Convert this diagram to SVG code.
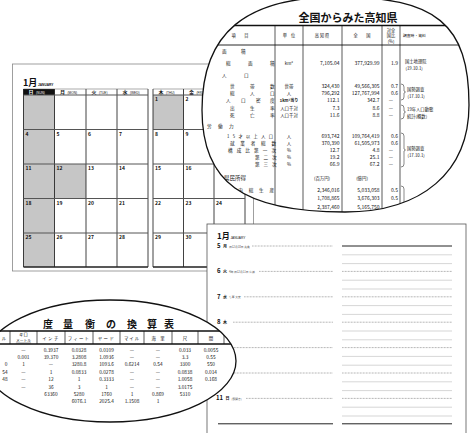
<svg xmlns="http://www.w3.org/2000/svg" width="472" height="433" viewBox="0 0 472 433">
<style>
text{font-family:"Noto Sans CJK JP","Noto Sans CJK SC",sans-serif;fill:#111}
.n{font-family:"Liberation Sans",Arial,sans-serif;font-weight:bold;font-size:5px}
.hk{font-size:5px;font-weight:bold}
.he{font-family:"Liberation Sans",Arial,sans-serif;font-size:3.2px}
.v{stroke:#111;stroke-width:0.8;fill:none}
.r{stroke:#555;stroke-width:1;fill:none}
.t{font-size:4.6px}
.u{font-size:4.4px;text-anchor:middle}
.num{font-family:"Liberation Serif","Noto Sans CJK JP",serif;font-size:5px;text-anchor:end}
.mid{text-anchor:middle}
.sm{font-size:4.2px}
.dot{stroke:#666;stroke-width:0.6;stroke-dasharray:0.8 0.7;fill:none}
.lt{stroke:#bbb;stroke-width:0.6;fill:none}
.bk{stroke:#222;stroke-width:1;fill:none}
.oval{fill:#fff}
.ol{fill:none;stroke:#111;stroke-width:1.3}
.tiny{font-size:2.8px;fill:#555}
.cv{font-family:"Liberation Serif","Noto Sans CJK JP",serif;font-size:4.8px;text-anchor:middle}
</style>
<defs>
<path id="o1" d="M202,110 C202,33 245.5,-3 338,-3 C436,-3 469,24 469,105 C469,172 421.9,212 345,212 C242,212 202,182 202,110 Z"/>
<clipPath id="c1"><use href="#o1"/></clipPath>
<clipPath id="c2"><ellipse cx="110" cy="361" rx="126" ry="61"/></clipPath>
</defs>

<g id="calendar">
<rect x="12.5" y="64" width="241" height="207" fill="#fff" stroke="#888" stroke-width="0.8"/>
<text x="23" y="86" font-size="9" font-weight="bold">1月</text>
<text x="38" y="86" class="he" font-weight="bold" font-size="3.8">JANUARY</text>
<g fill="#c6c6c6">
<rect x="23.5" y="95" width="31" height="172"/>
<rect x="54.5" y="164" width="31.5" height="34.5"/>
<rect x="153" y="95" width="30.5" height="34.5"/>
</g>
<rect x="23.5" y="89" width="31" height="6" fill="#111"/>
<text x="28.5" y="94" class="hk" style="fill:#fff">日</text><text x="36" y="93.6" class="he" style="fill:#fff">(SUN)</text>
<text x="60" y="94" class="hk">月</text><text x="67.5" y="93.6" class="he">(MON)</text>
<text x="91.5" y="94" class="hk">火</text><text x="99" y="93.6" class="he">(TUE)</text>
<text x="122.5" y="94" class="hk">水</text><text x="130" y="93.6" class="he">(WED)</text>
<text x="158.5" y="94" class="hk">木</text><text x="166" y="93.6" class="he">(THU)</text>
<text x="189" y="94" class="hk">金</text><text x="196.5" y="93.6" class="he">(FRI)</text>
<path class="v" d="M23.5 89V267M54.5 89V267M86 89V267M117 89V267M148 89V267M153 89V267M183.5 89V267M214 89V267M245 89V267"/>
<path class="r" d="M23.5 95H148M23.5 129.5H148M23.5 164H148M23.5 198.5H148M23.5 233H148M153 95H245M153 129.5H245M153 164H245M153 198.5H245M153 233H245"/>
<path stroke="#555" stroke-width="0.5" d="M23.5 89H148M153 89H245"/>
<path stroke="#222" stroke-width="1.3" d="M23.5 267H148M153 267H245"/>
<g class="n">
<text x="155" y="101">1</text><text x="185.5" y="101">2</text>
<text x="25.5" y="135.5">4</text><text x="56.5" y="135.5">5</text><text x="88" y="135.5">6</text><text x="119" y="135.5">7</text><text x="155" y="135.5">8</text><text x="185.5" y="135.5">9</text>
<text x="25.5" y="170">11</text><text x="56.5" y="170">12</text><text x="88" y="170">13</text><text x="119" y="170">14</text><text x="155" y="170">15</text><text x="185.5" y="170">16</text><text x="216" y="170">17</text>
<text x="25.5" y="204.5">18</text><text x="56.5" y="204.5">19</text><text x="88" y="204.5">20</text><text x="119" y="204.5">21</text><text x="155" y="204.5">22</text><text x="185.5" y="204.5">23</text><text x="216" y="204.5">24</text>
<text x="25.5" y="239">25</text><text x="56.5" y="239">26</text><text x="88" y="239">27</text><text x="119" y="239">28</text><text x="155" y="239">29</text><text x="185.5" y="239">30</text>
</g>
</g>

<g id="kochi-table">
<use href="#o1" class="oval"/>
<g clip-path="url(#c1)">
<text x="348" y="22" text-anchor="middle" font-size="11" font-weight="bold">全国からみた高知県</text>
<path stroke="#111" stroke-width="1.3" d="M195 25.5H475"/>
<path stroke="#111" stroke-width="0.9" d="M195 45H475"/>
<path stroke="#111" stroke-width="0.7" d="M275 25V230M303 25V230M342 25V230M382 25V230M400 25V230"/>
<g class="sm">
<text x="240" y="37" class="mid">項　　目</text>
<text x="289" y="37" class="mid">単　位</text>
<text x="322" y="37" class="mid">高 知 県</text>
<text x="362" y="37" class="mid">全　　国</text>
<text x="391" y="31.5" class="mid">対全</text>
<text x="391" y="37.3" class="mid">国比</text>
<text x="391" y="43" class="mid">(%)</text>
<text x="403" y="37" font-size="3.8">調査時・資料</text>
</g>
<g class="t">
<text x="222 241" y="53">面積</text>
<text x="226 248 270" y="65">総面積</text>
<text x="222 244" y="77">人口</text>
<text x="230 250 270" y="88">世帯数</text>
<text x="230 250 270" y="95">総人口</text>
<text x="226 241 256 270" y="102">人口密度</text>
<text x="230 250 270" y="109.5">出生率</text>
<text x="230 250 270" y="117">死亡率</text>
<text x="207 218 229" y="128">労働力</text>
<text x="227" y="137.5" font-size="4.2" textLength="46" lengthAdjust="spacing">15才以上人口</text>
<text x="230" y="144.5" textLength="46" lengthAdjust="spacing">就業者総数</text>
<text x="228" y="151.5" textLength="48" lengthAdjust="spacing">構成比第一次</text>
<text x="255 263.5 272" y="158.5">第二次</text>
<text x="255 263.5 272" y="165.5">第三次</text>
<text x="224" y="180" font-size="5.5">県民所得</text>
<text x="228" y="192" textLength="46" lengthAdjust="spacing">県内総生産</text>
</g>
<g class="u">
<text x="289" y="65">km²</text>
<text x="289" y="88">世帯</text>
<text x="289" y="95">人</text>
<text x="289" y="102" font-weight="bold" font-size="4">1km²当り</text>
<text x="289" y="109.5">人口千対</text>
<text x="289" y="117">人口千対</text>
<text x="289" y="137.5">人</text>
<text x="289" y="144.5">人</text>
<text x="289" y="151.5">%</text>
<text x="289" y="158.5">%</text>
<text x="289" y="165.5">%</text>
<text x="322" y="180">(百万円)</text>
<text x="362" y="180">(億円)</text>
</g>
<g class="num">
<text x="339.5" y="65">7,105.04</text><text x="379.5" y="65">377,929.99</text><text x="398" y="65">1.9</text>
<text x="339.5" y="88">324,430</text><text x="379.5" y="88">49,566,305</text><text x="398" y="88">0.7</text>
<text x="339.5" y="95">796,292</text><text x="379.5" y="95">127,767,994</text><text x="398" y="95">0.6</text>
<text x="339.5" y="102">112.1</text><text x="379.5" y="102">342.7</text>
<text x="339.5" y="109.5">7.3</text><text x="379.5" y="109.5">8.6</text>
<text x="339.5" y="117">11.6</text><text x="379.5" y="117">8.8</text>
<text x="339.5" y="137.5">693,742</text><text x="379.5" y="137.5">109,764,419</text><text x="398" y="137.5">0.6</text>
<text x="339.5" y="144.5">370,390</text><text x="379.5" y="144.5">61,505,973</text><text x="398" y="144.5">0.6</text>
<text x="339.5" y="151.5">12.7</text><text x="379.5" y="151.5">4.8</text>
<text x="339.5" y="158.5">19.2</text><text x="379.5" y="158.5">25.1</text>
<text x="339.5" y="165.5">66.9</text><text x="379.5" y="165.5">67.2</text>
<text x="339.5" y="192">2,346,016</text><text x="379.5" y="192">5,033,058</text><text x="398" y="192">0.5</text>
<text x="339.5" y="200">1,708,865</text><text x="379.5" y="200">3,676,303</text><text x="398" y="200">0.5</text>
<text x="339.5" y="208.5">2,387,460</text><text x="379.5" y="208.5">5,165,750</text>
</g>
<g class="cv">
<text x="391" y="102">—</text><text x="391" y="109.5">—</text><text x="391" y="117">—</text>
<text x="391" y="151.5">—</text><text x="391" y="158.5">—</text><text x="391" y="165.5">—</text>
</g>
<path stroke="#111" stroke-width="0.5" fill="none" d="M401 84q3 0 3 3v4l1.5 1l-1.5 1v4q0 3-3 3M401 105q3 0 3 3v3l1.5 1l-1.5 1v3q0 3-3 3M401 133q3 0 3 3v13l1.5 1l-1.5 1v13q0 3-3 3M401 186q3 0 3 3v40"/>
<g font-size="4.3">
<text x="405" y="63">国土地理院</text><text x="405.5" y="70">(19.10.1)</text>
<text x="407" y="91">国勢調査</text><text x="407.5" y="97.5">(17.10.1)</text>
<text x="407" y="111">19年人口動態</text><text x="407" y="117.5">統計(概数)</text>
<text x="407" y="150">国勢調査</text><text x="407.5" y="156.5">(17.10.1)</text>
</g>
</g>
<use href="#o1" class="ol"/>
</g>

<g id="notebook">
<rect x="207" y="224" width="259" height="215" fill="#fff" stroke="#555" stroke-width="0.8"/>
<text x="217" y="239" font-size="8" font-weight="bold">1月</text>
<text x="230.5" y="239" class="he" font-size="3">JANUARY</text>
<g font-weight="bold">
<text x="217" y="248" font-size="6">5</text><text x="223" y="248" font-size="4">月</text>
<text x="217" y="273.4" font-size="6">6</text><text x="223" y="273.4" font-size="4">火</text>
<text x="217" y="298.8" font-size="6">7</text><text x="223" y="298.8" font-size="4">水</text>
<text x="217" y="324.2" font-size="6">8</text><text x="223" y="324.2" font-size="4">木</text>
<text x="216" y="400.4" font-size="6">11</text><text x="225.5" y="400.4" font-size="4">日</text>
</g>
<text x="229" y="247.5" class="tiny">旧12月10日 先負</text>
<text x="229" y="272.9" class="tiny">4時 旧12月11日 仏滅</text>
<text x="229" y="298.3" class="tiny">七草 大安</text>
<text x="231.5" y="399.9" class="tiny">(鏡開き)</text>
<path class="dot" d="M252 246H333M259 271.4H333M244 296.8H333M233 322.2H333M225 347.6H333M225 373H333M246 398.4H333"/>
<path class="dot" d="M342 271.4H452M342 296.8H452M342 322.2H452M342 347.6H452M342 373H452M342 398.4H452"/>
<path class="lt" d="M342 254.8H452M342 263.6H452M342 280.2H452M342 289H452M342 305.6H452M342 314.4H452M342 331H452M342 339.8H452M342 356.4H452M342 365.2H452M342 381.8H452M342 390.6H452M342 407.2H452M342 416H452"/>
<path class="bk" d="M342 246H452M218 423.8H333M342 423.8H452"/>
</g>

<g id="conversion-table">
<ellipse cx="110" cy="361" rx="126" ry="61" fill="#fff"/>
<g clip-path="url(#c2)">
<g font-size="10" font-weight="bold" text-anchor="middle">
<text x="48" y="328">度</text><text x="68" y="328">量</text><text x="90" y="328">衡</text><text x="111" y="328">の</text><text x="132" y="328">換</text><text x="152" y="328">算</text><text x="169" y="328">表</text>
</g>
<path stroke="#111" stroke-width="1.3" d="M-20 331H240M-20 344H240"/>
<path stroke="#111" stroke-width="0.7" d="M10 331V344M37 331V344M65 331V344M93 331V344M120 331V344M144 331V344M172 331V344M198 331V344M224 331V344"/>
<g font-size="4.4" text-anchor="middle">
<text x="4" y="339.5">ル</text>
<text x="23.5" y="336">キロ</text><text x="23.5" y="341.8" font-size="3.8" text-decoration="underline">メートル</text>
<text x="51" y="339.5" letter-spacing="1.5">インチ</text>
<text x="79" y="339.5" letter-spacing="1.2">フィート</text>
<text x="106.5" y="339.5" letter-spacing="1.5">ヤード</text>
<text x="132" y="339.5" letter-spacing="1">マイル</text>
<text x="158" y="339.5">海　里</text>
<text x="185" y="339.5">尺</text>
<text x="211" y="339.5">間</text>
</g>
<g class="cv">
<text x="23.5" y="351.5">—</text><text x="51" y="351.5">0.3937</text><text x="79" y="351.5">0.0328</text><text x="106.5" y="351.5">0.0109</text><text x="132" y="351.5">—</text><text x="158" y="351.5">—</text><text x="185" y="351.5">0.033</text><text x="211" y="351.5">0.0055</text>
<text x="23.5" y="358.9">0.001</text><text x="51" y="358.9">39.370</text><text x="79" y="358.9">3.2808</text><text x="106.5" y="358.9">1.0936</text><text x="132" y="358.9">—</text><text x="158" y="358.9">—</text><text x="185" y="358.9">3.3</text><text x="211" y="358.9">0.55</text>
<text x="6" y="366.3">0</text><text x="23.5" y="366.3">1</text><text x="51" y="366.3">—</text><text x="79" y="366.3">3280.8</text><text x="106.5" y="366.3">1093.6</text><text x="132" y="366.3">0.6214</text><text x="158" y="366.3">0.54</text><text x="185" y="366.3">3300</text><text x="211" y="366.3">550</text>
<text x="5" y="373.7">54</text><text x="23.5" y="373.7">—</text><text x="51" y="373.7">1</text><text x="79" y="373.7">0.0833</text><text x="106.5" y="373.7">0.0278</text><text x="132" y="373.7">—</text><text x="158" y="373.7">—</text><text x="185" y="373.7">0.0838</text><text x="211" y="373.7">0.014</text>
<text x="5" y="381.1">48</text><text x="23.5" y="381.1">—</text><text x="51" y="381.1">12</text><text x="79" y="381.1">1</text><text x="106.5" y="381.1">0.3333</text><text x="132" y="381.1">—</text><text x="158" y="381.1">—</text><text x="185" y="381.1">1.0058</text><text x="211" y="381.1">0.168</text>
<text x="23.5" y="388.5">—</text><text x="51" y="388.5">36</text><text x="79" y="388.5">3</text><text x="106.5" y="388.5">1</text><text x="132" y="388.5">—</text><text x="158" y="388.5">—</text><text x="185" y="388.5">3.0175</text>
<text x="51" y="395.9">63360</text><text x="79" y="395.9">5280</text><text x="106.5" y="395.9">1760</text><text x="132" y="395.9">1</text><text x="158" y="395.9">0.869</text><text x="185" y="395.9">5310</text>
<text x="79" y="403.3">6076.1</text><text x="106.5" y="403.3">2025.4</text><text x="132" y="403.3">1.1508</text><text x="158" y="403.3">1</text>
</g>
</g>
<ellipse cx="110" cy="361" rx="126" ry="61" class="ol"/>
</g>
</svg>
